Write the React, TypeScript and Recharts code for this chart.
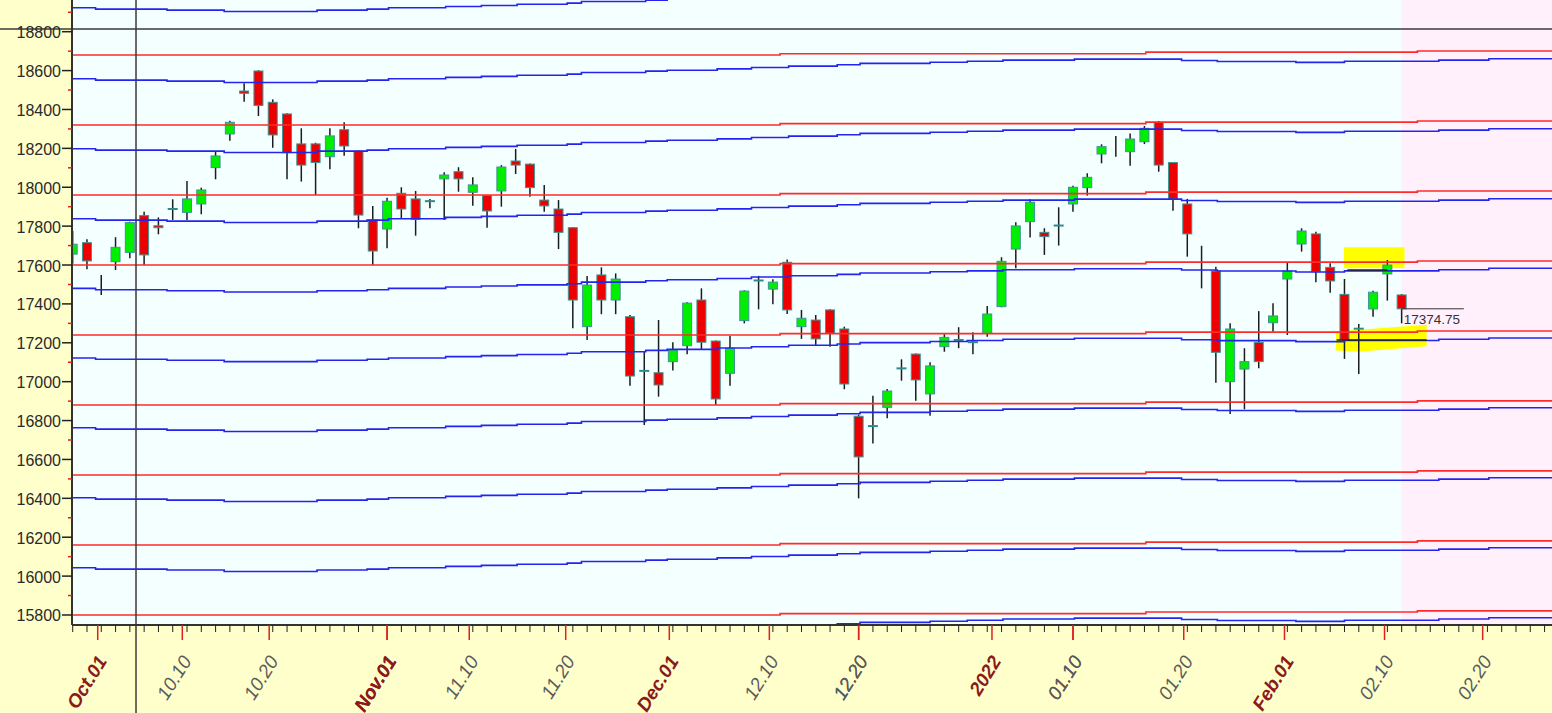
import React from 'react';
import { ComposedChart, Bar, Line, XAxis, YAxis, ReferenceArea, ReferenceLine } from 'recharts';

// daily candles, Sep 29 2021 .. Feb 11 2022 (index = trading day)
const opens = [
  17656, 17715, 17532, 17617, 17665, 17854, 17802, 17885, 17871, 17914,
  18101, 18274, 18495, 18598, 18437, 18377, 18223, 18223, 18157, 18296,
  18186, 17832, 17785, 17969, 17940, 17931, 18043, 18080, 17974, 17957,
  17981, 18135, 18119, 17934, 17888, 17792, 17283, 17549, 17420, 17334,
  17058, 17046, 17103, 17185, 17420, 17209, 17043, 17314, 17523, 17476,
  17614, 17283, 17317, 17369, 17271, 16822, 16774, 16868, 17066, 17142,
  16937, 17180, 17217, 17201, 17249, 17386, 17682, 17823, 17768, 17800,
  17914, 17998, 18171, 18257, 18183, 18234, 18334, 18127, 17914, 17614,
  17569, 17000, 17065, 17202, 17303, 17528, 17708, 17760, 17588, 17449,
  17270, 17374, 17554, 17446,
];
const highs = [
  17775, 17732, 17549, 17743, 17823, 17874, 17845, 17938, 18032, 17998,
  18183, 18342, 18535, 18602, 18452, 18380, 18303, 18229, 18303, 18334,
  18188, 17904, 17946, 18000, 17981, 17940, 18077, 18103, 18051, 17960,
  18114, 18197, 18122, 18012, 17934, 17795, 17544, 17588, 17557, 17343,
  17158, 17317, 17203, 17408, 17480, 17212, 17236, 17470, 17544, 17527,
  17629, 17369, 17343, 17372, 17283, 16830, 16928, 16962, 17115, 17145,
  17100, 17244, 17280, 17254, 17389, 17640, 17820, 17938, 17789, 17897,
  18008, 18072, 18221, 18264, 18277, 18315, 18341, 18127, 17940, 17699,
  17591, 17300, 17172, 17363, 17403, 17612, 17789, 17771, 17609, 17528,
  17297, 17468, 17626, 17451,
];
const lows = [
  17608, 17578, 17446, 17574, 17635, 17600, 17758, 17832, 17832, 17861,
  18041, 18239, 18440, 18366, 18203, 18041, 18029, 17960, 18092, 18162,
  17789, 17600, 17686, 17837, 17751, 17892, 17832, 17977, 17905, 17792,
  17900, 18068, 17951, 17874, 17682, 17275, 17214, 17347, 17347, 16979,
  16777, 16923, 17057, 17141, 17168, 16880, 16979, 17300, 17372, 17398,
  17348, 17220, 17189, 17180, 16961, 16400, 16682, 16812, 17005, 16902,
  16825, 17154, 17172, 17141, 17231, 17383, 17583, 17741, 17652, 17700,
  17874, 17957, 18123, 18157, 18111, 18222, 18080, 17879, 17643, 17480,
  16995, 16834, 16858, 17069, 17257, 17240, 17669, 17511, 17458, 17117,
  17040, 17334, 17417, 17300,
];
const closes = [
  17707, 17621, 17532, 17691, 17818, 17652, 17792, 17891, 17940, 17986,
  18161, 18334, 18483, 18421, 18269, 18178, 18114, 18127, 18264, 18212,
  17857, 17672, 17928, 17888, 17835, 17926, 18063, 18043, 18012, 17878,
  18104, 18114, 17998, 17904, 17768, 17420, 17497, 17420, 17528, 17029,
  17053, 16983, 17163, 17404, 17203, 16911, 17172, 17466, 17518, 17512,
  17369, 17326, 17220, 17249, 16988, 16613, 16769, 16952, 17071, 17009,
  17081, 17228, 17212, 17205, 17348, 17619, 17801, 17923, 17746, 17806,
  18000, 18051, 18209, 18257, 18248, 18303, 18114, 17940, 17760, 17615,
  17151, 17271, 17103, 17103, 17338, 17569, 17775, 17566, 17518, 17214,
  17275, 17460, 17600, 17374.75,
];

// horizontal channel lines (level at the left edge) and their small steps
const redLevels = [15800, 16160, 16520, 16880, 17240, 17600, 17960, 18320, 18680, 19040];
const blueLevels = [15683, 16043, 16403, 16763, 17122, 17480, 17838, 18198, 18558, 18923];
const redStepX = [-0.05, 49.5, 75.1, 94.1, 104.2];
const redStepDy = [0, 7, 15, 21, 21];
const blueStepX = [
  -0.05, 1.6, 6.6, 10.6, 17.1, 20.6, 22.1, 26.1, 28.6, 31.1, 34.6, 35.6, 40.1, 41.6, 45.1,
  47.5, 50.1, 53.5, 55.1, 60.0, 62.6, 65.1, 70.1, 77.6, 80.1, 85.6, 89.0, 95.6, 99.1, 104.2,
];
const blueStepDy = [
  0, -7, -12, -19, -12, -7, 0, 7, 12, 18, 24, 32, 39, 44, 51,
  58, 65, 72, 79, 85, 90, 96, 101, 94, 89, 84, 90, 96, 103, 103,
];

// axis ticks
const yTicks = [
  15800, 15900, 16000, 16100, 16200, 16300, 16400, 16500, 16600, 16700, 16800, 16900,
  17000, 17100, 17200, 17300, 17400, 17500, 17600, 17700, 17800, 17900, 18000, 18100,
  18200, 18300, 18400, 18500, 18600, 18700, 18800, 18900, 19000, 19100,
];
const xTickPos = [1.75, 7.67, 13.75, 22, 27.75, 34.5, 41.75, 48.75, 55, 64.33, 70, 77.75, 84.8, 91.8, 98.67];
const xTickLabels = ['Oct.01', '10.10', '10.20', 'Nov.01', '11.10', '11.20', 'Dec.01', '12.10', '12.20', '2022', '01.10', '01.20', 'Feb.01', '02.10', '02.20'];
const xTickMonth = [true, false, false, true, false, false, true, false, false, true, false, false, true, false, false];

// annotations
const crossX = 4.43;
const crossY = 18814;
const futureFrom = 93;
const hiBoxX = [88.96, 93.2];
const hiBoxY = [17583, 17691];
const loBandX = [88.4, 94.75];
const loBandY = [17154, 17293];
const resLineX = [89.2, 92.0];
const resLineY = 17574;
const supLineX = [88.45, 94.75];
const supLineY = 17214;
const lastLabelEndX = 97.35;

const X_MIN = -0.049;
const X_MAX = 104.08;
const Y_MIN = 15748.5;
const Y_MAX = 19168.8;
const FONT = '"Liberation Sans", Arial, sans-serif';

const candles = opens.map((o, i) => ({
  x: i,
  open: o,
  high: highs[i],
  low: lows[i],
  close: closes[i],
  range: [lows[i], highs[i]],
}));

const redSeries = redLevels.map((lv) => redStepX.map((sx, k) => ({ x: sx, y: lv + redStepDy[k] })));
const blueSeries = blueLevels.map((lv) => blueStepX.map((sx, k) => ({ x: sx, y: lv + blueStepDy[k] })));

const minorTicks = Array.from({ length: 105 }, (_, i) => i);
const xTicks = [...minorTicks, ...xTickPos].sort((a, b) => a - b);

function Candle(props: any) {
  const { x, y, width, height, payload } = props;
  if (!payload || !isFinite(x) || !isFinite(y)) return null;
  const cx = x + width / 2;
  const top = Math.min(y, y + height);
  const h = Math.abs(height);
  const span = payload.high - payload.low;
  const ppu = span > 0 ? h / span : 0;
  const bTop = top + (payload.high - Math.max(payload.open, payload.close)) * ppu;
  const bH = Math.abs(payload.open - payload.close) * ppu;
  const up = payload.close >= payload.open;
  return (
    <g>
      <line x1={cx} x2={cx} y1={top} y2={top + h} stroke="#1c1c1c" strokeWidth={1.5} />
      {bH >= 1.8 ? (
        <rect x={cx - 4.5} y={bTop} width={9} height={bH} fill={up ? '#00ee00' : '#ee0000'} stroke="#3d9494" strokeWidth={1} />
      ) : bH >= 0.6 ? (
        <line x1={cx - 5} x2={cx + 5} y1={bTop + bH / 2} y2={bTop + bH / 2} stroke="#2e8b8b" strokeWidth={2} />
      ) : null}
    </g>
  );
}

function XTick(props: any) {
  const { x, y, payload } = props;
  const k = xTickPos.indexOf(payload.value);
  if (k < 0) return <line x1={x} x2={x} y1={y} y2={y + 7} stroke="#222" strokeWidth={1} />;
  const month = xTickMonth[k];
  const ax = x + 10;
  const ay = y + 36;
  return (
    <g>
      <line x1={x} x2={x} y1={y} y2={y + 15} stroke="#e02020" strokeWidth={1.5} />
      <text
        x={ax}
        y={ay}
        transform={`rotate(-58 ${ax} ${ay})`}
        textAnchor="end"
        fontSize={19}
        fontStyle="italic"
        fontWeight={month ? 'bold' : 'normal'}
        fill={month ? '#8b1a1a' : '#5a5a5a'}
        fontFamily={FONT}
      >
        {xTickLabels[k]}
      </text>
    </g>
  );
}

function YTick(props: any) {
  const { x, y, payload } = props;
  const v = payload.value;
  if (v % 200 !== 0) return <line x1={x - 4} x2={x} y1={y} y2={y} stroke="#e02020" strokeWidth={1.5} />;
  return (
    <g>
      <line x1={x - 10} x2={x} y1={y} y2={y} stroke="#222" strokeWidth={1.5} />
      <text x={x - 11} y={y + 6.5} textAnchor="end" fontSize={16} fill="#2a2a2a" fontFamily={FONT}>
        {v}
      </text>
    </g>
  );
}

const YellowBand = (p: any) => {
  const { x, y, width: w, height: h } = p;
  const pts = [
    [x, y + 0.25 * h],
    [x + w, y],
    [x + w, y + 0.8 * h],
    [x + 0.25 * w, y + h],
    [x, y + 0.95 * h],
  ];
  return <polygon points={pts.map((q) => q.join(',')).join(' ')} fill="#ffff00" />;
};

export default function App() {
  return (
    <div style={{ position: 'fixed', left: 0, top: 0, width: 1552, height: 713, overflow: 'hidden', background: '#ffffcc' }}>
      <div style={{ position: 'absolute', left: 0, top: -40 }}>
        <ComposedChart width={1560} height={753} data={candles} margin={{ top: 0, right: 0, bottom: 0, left: 0 }}>
          <XAxis
            type="number"
            dataKey="x"
            domain={[X_MIN, X_MAX]}
            allowDataOverflow
            ticks={xTicks}
            interval={0}
            tick={(p: any) => <XTick {...p} />}
            tickSize={0}
            tickMargin={0}
            tickLine={false}
            height={88}
            axisLine={{ stroke: '#333', strokeWidth: 2 }}
          />
          <YAxis
            type="number"
            domain={[Y_MIN, Y_MAX]}
            allowDataOverflow
            ticks={yTicks}
            interval={0}
            tick={(p: any) => <YTick {...p} />}
            tickSize={0}
            tickMargin={0}
            tickLine={false}
            width={72}
            axisLine={{ stroke: '#333', strokeWidth: 2 }}
          />

          {/* plot backgrounds */}
          <ReferenceArea x1={X_MIN} x2={futureFrom} fill="#f4ffff" fillOpacity={1} stroke="none" ifOverflow="hidden" />
          <ReferenceArea x1={futureFrom} x2={X_MAX} fill="#fff0fc" fillOpacity={1} stroke="none" ifOverflow="hidden" />

          {/* highlighter marks */}
          <ReferenceArea x1={hiBoxX[0]} x2={hiBoxX[1]} y1={hiBoxY[0]} y2={hiBoxY[1]} fill="#ffff00" fillOpacity={1} stroke="none" />
          <ReferenceArea x1={loBandX[0]} x2={loBandX[1]} y1={loBandY[0]} y2={loBandY[1]} shape={YellowBand} />

          <Bar dataKey="range" barSize={9} shape={(p: any) => <Candle {...p} />} isAnimationActive={false} />

          {redSeries.map((d, i) => (
            <Line key={'r' + i} data={d} dataKey="y" type="stepAfter" stroke="#ff2b2b" strokeWidth={1.6} dot={false} activeDot={false} isAnimationActive={false} />
          ))}
          {blueSeries.map((d, i) => (
            <Line key={'b' + i} data={d} dataKey="y" type="stepAfter" stroke="#2424f0" strokeWidth={1.6} dot={false} activeDot={false} isAnimationActive={false} />
          ))}

          <ReferenceLine segment={[{ x: resLineX[0], y: resLineY }, { x: resLineX[1], y: resLineY }]} stroke="#222" strokeWidth={1.5} />
          <ReferenceLine segment={[{ x: supLineX[0], y: supLineY }, { x: supLineX[1], y: supLineY }]} stroke="#222" strokeWidth={1.5} />
          <ReferenceLine
            segment={[{ x: futureFrom, y: closes[closes.length - 1] }, { x: lastLabelEndX, y: closes[closes.length - 1] }]}
            shape={(p: any) => (
              <g>
                <line x1={p.x1} y1={p.y1} x2={p.x2} y2={p.y2} stroke="#333" strokeWidth={1} />
                <text x={p.x1 + 2} y={p.y1 + 15} fontSize={13.5} fill="#333" fontFamily={FONT}>
                  {closes[closes.length - 1].toFixed(2)}
                </text>
              </g>
            )}
          />

          {/* crosshair */}
          <ReferenceLine
            x={crossX}
            shape={(p: any) => <line x1={p.x1} x2={p.x1} y1={-100} y2={1000} stroke="#3a3a3a" strokeWidth={1.5} />}
          />
          <ReferenceLine
            y={crossY}
            shape={(p: any) => <line x1={-100} x2={2000} y1={p.y1} y2={p.y1} stroke="#3a3a3a" strokeWidth={1.5} />}
          />
        </ComposedChart>
      </div>
    </div>
  );
}
